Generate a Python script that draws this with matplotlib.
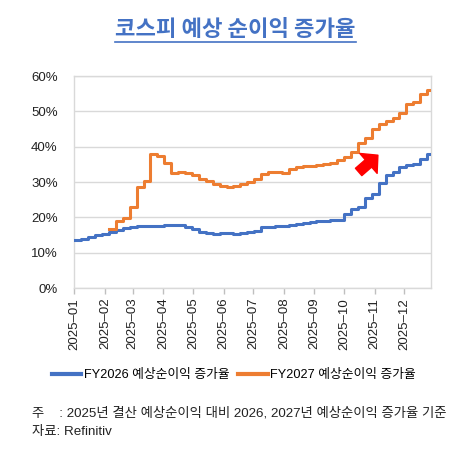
import matplotlib
matplotlib.use("Agg")
import matplotlib.pyplot as plt
import matplotlib.ticker as mticker
import matplotlib.dates as mdates
from matplotlib.lines import Line2D
from matplotlib.patches import FancyArrowPatch
import numpy as np
import pandas as pd

plt.rcParams["font.family"] = ["Liberation Sans", "Noto Sans CJK KR"]

# ---------------------------------------
# Data (weekly)
# ---------------------------------------
weeks = pd.date_range("2025-01-01", periods=53, freq="7D")

fy2026 = [
    13.6, 14.0, 14.5, 15.0, 15.4, 15.8, 16.5, 17.0, 17.4, 17.6,
    17.7, 17.7, 17.6, 17.9, 18.0, 17.8, 17.4, 16.6, 15.8, 15.5,
    15.4, 15.7, 15.5, 15.4, 15.6, 16.0, 16.2, 17.3, 17.4, 17.5,
    17.5, 17.8, 18.2, 18.5, 18.8, 18.9, 19.0, 19.3, 19.4, 21.0,
    22.3, 23.0, 25.5, 26.5, 29.8, 32.0, 33.0, 34.2, 34.8, 35.2,
    36.5, 38.0, 38.0,
]

fy2027 = [
    np.nan, np.nan, np.nan, np.nan, np.nan, 16.6, 19.0, 19.9, 23.0, 28.7,
    30.4, 38.0, 37.5, 35.5, 32.5, 32.8, 32.5, 32.0, 31.0, 30.3,
    29.5, 29.0, 28.7, 28.9, 29.4, 30.0, 31.0, 32.2, 32.8, 33.0,
    32.7, 33.8, 34.3, 34.6, 34.6, 34.8, 35.0, 35.5, 36.2, 37.0,
    38.5, 41.0, 42.5, 45.0, 46.5, 47.3, 48.2, 49.5, 52.0, 52.8,
    54.8, 56.0, 56.0,
]

series_labels = ["FY2026 예상순이익 증가율", "FY2027 예상순이익 증가율"]
title = "코스피 예상 순이익 증가율"
note = "주    : 2025년 결산 예상순이익 대비 2026, 2027년 예상순이익 증가율 기준"
source = "자료: Refinitiv"

BLUE = "#4472C4"
ORANGE = "#ED7D31"
GRID = "#d9d9d9"
TEXT = "#222222"

# ---------------------------------------
# Figure
# ---------------------------------------
fig = plt.figure(figsize=(4.68, 4.67), dpi=100)
ax = fig.add_axes([0.159, 0.383, 0.762, 0.454])

ax.plot(weeks, np.array(fy2026) / 100, color=BLUE, linewidth=2.2,
        drawstyle="steps-post", label=series_labels[0], zorder=3)
ax.plot(weeks, np.array(fy2027) / 100, color=ORANGE, linewidth=2.2,
        drawstyle="steps-post", label=series_labels[1], zorder=3)

ax.set_ylim(0, 0.6)
ax.set_xlim(pd.Timestamp("2025-01-01"), pd.Timestamp("2025-12-28"))
ax.yaxis.set_major_locator(mticker.MultipleLocator(0.1))
ax.yaxis.set_major_formatter(mticker.PercentFormatter(1.0, decimals=0))

ax.xaxis.set_major_locator(mdates.MonthLocator())
ax.xaxis.set_major_formatter(mdates.DateFormatter("%Y\u2013%m"))
for lbl in ax.get_xticklabels():
    lbl.set_rotation(90)

ax.tick_params(axis="x", length=4, width=1, color="#bfbfbf", pad=3,
               labelsize=9.5, labelcolor=TEXT)
ax.tick_params(axis="y", length=0, pad=12, labelsize=9.5, labelcolor=TEXT)

ax.grid(True, axis="y", color=GRID, linewidth=1)
ax.set_axisbelow(True)
for sp in ax.spines.values():
    sp.set_color(GRID)
    sp.set_linewidth(1)

# red callout arrow
arrow = FancyArrowPatch(
    (0.797, 0.548), (0.851, 0.627),
    transform=ax.transAxes,
    arrowstyle="simple,head_length=9,head_width=19,tail_width=7",
    mutation_scale=1, shrinkA=0, shrinkB=0,
    color="#ff0000", zorder=5,
)
ax.add_patch(arrow)

fig.legend(
    loc="center", bbox_to_anchor=(0.5, 0.197), ncol=2, frameon=False,
    fontsize=9.2, handlelength=2.3, handletextpad=0.2, columnspacing=0.7,
)
for lh in fig.legends[0].get_lines():
    lh.set_linewidth(3)

# title with underline
t = fig.text(0.503, 0.936, title, ha="center", va="center", fontsize=16,
             fontweight="bold", color=BLUE, family=["Noto Sans CJK KR"])
fig.canvas.draw()
bb = t.get_window_extent()
W, H = fig.bbox.width, fig.bbox.height
y_ul = (bb.y0 - 1) / H
fig.add_artist(Line2D([bb.x0 / W, bb.x1 / W], [y_ul, y_ul],
                      transform=fig.transFigure, color=BLUE, linewidth=1.2))

fig.text(0.068, 0.116, note, ha="left", va="center", fontsize=9.6, color=TEXT)
fig.text(0.068, 0.075, source, ha="left", va="center", fontsize=9.6, color=TEXT)

fig.savefig("out.png", dpi=100)
